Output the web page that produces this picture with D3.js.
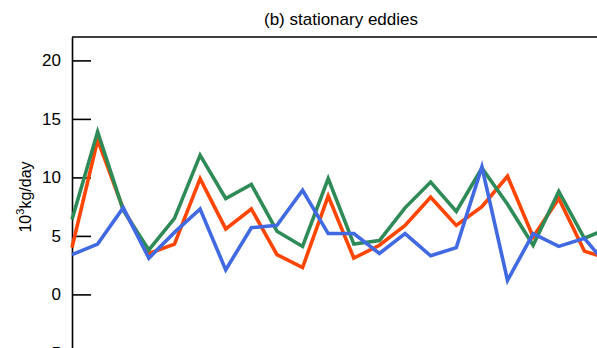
<!DOCTYPE html>
<html>
<head>
<meta charset="utf-8">
<script src="https://cdn.jsdelivr.net/npm/d3@7"></script>
<style>
  body { margin: 0; background: #fff; }
  svg { display: block; font-family: "Liberation Sans", Arial, sans-serif; }
</style>
</head>
<body>
<script>
var WIDTH = 597;
var HEIGHT = 348;

var title = "(b) stationary eddies";
var yTicks = [-5, 0, 5, 10, 15, 20];

// one value per time step
var green = [6.4, 13.9, 7.2, 3.8, 6.5, 11.9, 8.2, 9.4, 5.4, 4.1, 9.9, 4.3, 4.6, 7.4, 9.6, 7.1, 10.8, 7.7, 4.2, 8.8, 4.8, 5.7];
var red   = [4.0, 13.2, 7.3, 3.5, 4.3, 9.9, 5.6, 7.3, 3.4, 2.3, 8.4, 3.1, 4.2, 5.9, 8.3, 5.9, 7.5, 10.1, 4.9, 8.2, 3.7, 3.0];
var blue  = [3.4, 4.3, 7.4, 3.1, 5.3, 7.3, 2.1, 5.7, 5.9, 8.9, 5.2, 5.2, 3.5, 5.2, 3.3, 4.0, 10.9, 1.2, 5.2, 4.1, 4.8, 2.2];

var series = [
  {name: "red", values: red, color: "#ff4500"},
  {name: "green", values: green, color: "#2e8b57"},
  {name: "blue", values: blue, color: "#4169e1"}
];

var LEFT = 72, RIGHT = 610, TOP = 37;

var xScale = d3.scaleLinear()
    .domain([0, green.length - 1])
    .range([LEFT, RIGHT]);

var yScale = d3.scaleLinear()
    .domain([-10, 22])
    .range([TOP + 32 * 11.7, TOP]);

var svg = d3.select("body").append("svg")
    .attr("width", WIDTH)
    .attr("height", HEIGHT);

// title
svg.append("text")
    .attr("x", 341)
    .attr("y", 25)
    .attr("text-anchor", "middle")
    .style("font-size", "17px")
    .text(title);

// top border
svg.append("line")
    .attr("x1", LEFT).attr("x2", RIGHT + 20)
    .attr("y1", TOP).attr("y2", TOP)
    .attr("stroke", "#000").attr("stroke-width", 1.6);

var yAxis = d3.axisLeft(yScale)
    .tickValues(yTicks)
    .tickSizeInner(-19)
    .tickSizeOuter(0)
    .tickPadding(11)
    .tickFormat(d3.format("d"));

var gy = svg.append("g")
    .attr("transform", "translate(" + LEFT + ",0)")
    .call(yAxis);
gy.select(".domain").attr("stroke-width", 1.6);
gy.selectAll(".tick line").attr("stroke-width", 1.6);
gy.selectAll(".tick text")
    .style("font-size", "17px")
    .style("font-family", "Liberation Sans, Arial, sans-serif")
    .attr("fill", "#000");

// y label
var yl = svg.append("text")
    .attr("transform", "translate(31,197) rotate(-90)")
    .attr("text-anchor", "middle")
    .style("font-size", "16px");
yl.append("tspan").text("10");
yl.append("tspan").attr("dy", -7).style("font-size", "11px").text("3");
yl.append("tspan").attr("dy", 7).text("kg/day");

var line = d3.line()
    .x(function (d, i) { return xScale(i); })
    .y(function (d) { return yScale(d); });

svg.append("g").selectAll("path")
    .data(series)
    .enter()
    .append("path")
    .attr("d", function (s) { return line(s.values); })
    .attr("fill", "none")
    .attr("stroke", function (s) { return s.color; })
    .attr("stroke-width", 3.6)
    .attr("stroke-linejoin", "miter");
</script>
</body>
</html>
